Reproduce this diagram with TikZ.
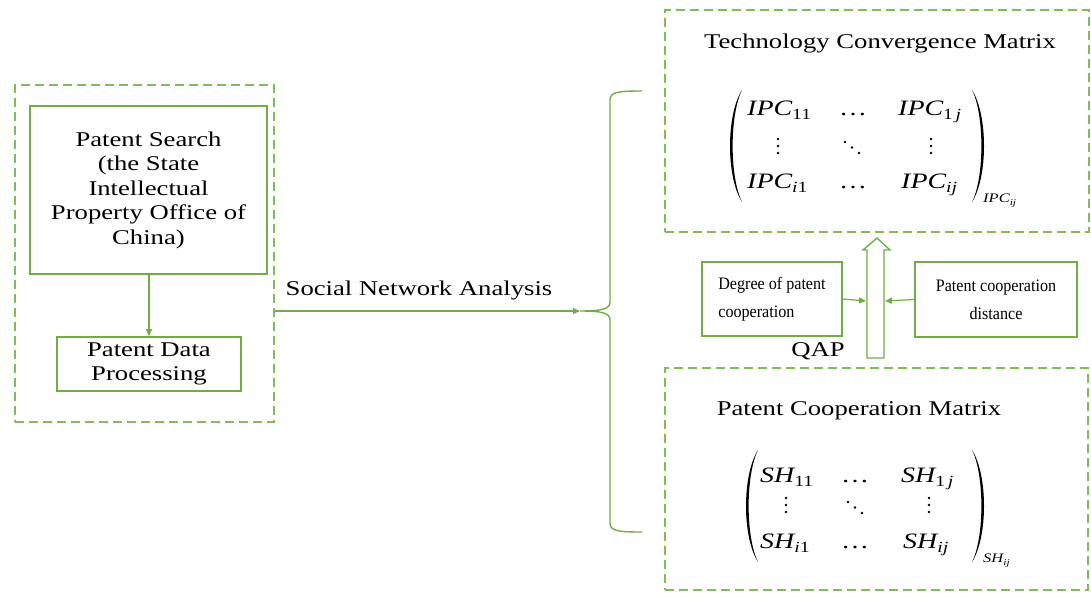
\documentclass[tikz,border=0pt]{standalone}
\usepackage{fontspec}
\setmainfont{Liberation Serif}[FakeStretch=1.27]
\newfontfamily\boxfont{Liberation Serif}[FakeStretch=0.92]
\usetikzlibrary{arrows.meta}
\definecolor{leaf}{HTML}{70AD47}
\definecolor{leaflight}{RGB}{128,188,88}

% matrix entry: italic symbol with a lowered index
\newcommand\mxent[2]{{\itshape #1}\raisebox{-4pt}{\fontsize{15.5}{15.5}\selectfont #2}}
% small label hanging off a closing parenthesis
\newcommand\mxtag[2]{{\fontsize{13}{13}\selectfont\itshape #1}\raisebox{-3.5pt}{\fontsize{9}{9}\selectfont\itshape #2}}

\tikzset{
  dashbox/.style={draw=leaflight, line width=1.3pt, dash pattern=on 9pt off 5pt, inner sep=0pt},
  solidbox/.style={draw=leaf, line width=1.6pt, inner sep=0pt, align=center,
    font=\fontsize{21}{24.5}\selectfont},
  smallbox/.style={draw=leaf, line width=2.2pt, inner sep=0pt,
    font=\boxfont\fontsize{17.5}{28}\selectfont},
  label/.style={inner sep=0pt, font=\fontsize{21}{24.5}\selectfont},
  entry/.style={inner sep=0pt, anchor=base west, font=\fontsize{22}{22}\selectfont},
  flow/.style={draw=leaf, line width=1.4pt, -{Triangle[length=7pt,width=6pt]}},
  thin/.style={draw=leaf, line width=1.4pt},
  pics/lpar/.style={code={
    \fill (0,0) .. controls (-16,25) and (-16,87) .. (0,112)
      .. controls (-12.5,87) and (-12.5,25) .. (0,0) -- cycle;}},
  pics/vdts/.style={code={
    \foreach \k in {-7,0,7} \fill (0,\k) circle (1.4);}},
  pics/ddts/.style={code={
    \foreach \k in {-1,0,1} \fill (7*\k,5.5*\k) circle (1.4);}},
}

\begin{document}
\begin{tikzpicture}[x=1pt,y=-1pt]
\useasboundingbox (0,0) rectangle (1091,592);

% ---- data collection stage ----
\node[dashbox, minimum width=259, minimum height=337] (collect) at (144.5,253.5) {};
\node[solidbox, minimum width=237, minimum height=168] (search) at (148.5,190)
  {Patent Search\\(the State\\Intellectual\\Property Office of\\China)};
\node[solidbox, minimum width=184, minimum height=54] (process) at (149,364)
  {Patent Data\\Processing};
\draw[flow] (search.south -| process.north) -- (process.north);

% ---- social network analysis ----
\coordinate (tip) at (580,311);
\draw[flow] (collect.east |- tip) -- (tip);
\node[label, anchor=base] (sna) at (419,295) {Social Network Analysis};
\draw[thin] (642,91) .. controls (618,91) and (610,92) .. (610,100) -- (610,302)
  .. controls (610,309) and (602,311) .. (tip)
  .. controls (602,311) and (610,313) .. (610,320) -- (610,523)
  .. controls (610,531) and (618,532) .. (642,532);

% ---- technology convergence matrix ----
\node[dashbox, minimum width=424, minimum height=222] (tcm) at (877,121) {};
\node[label, anchor=base] (tcmtitle) at (880,48) {Technology Convergence Matrix};
\pic at (742,90) {lpar};
\pic[xscale=-1] at (972,90) {lpar};
\node[entry] (ipc11) at (747,115) {\mxent{IPC}{11}};
\node[entry] (ipc1j) at (898,115) {\mxent{IPC}{1\,\textit{j}}};
\node[entry] (ipci1) at (747,188) {\mxent{IPC}{\textit{i}1}};
\node[entry] (ipcij) at (901,188) {\mxent{IPC}{\textit{ij}}};
\node[entry, anchor=base] (ipcdots1) at (853,115) {\ldots};
\node[entry, anchor=base] (ipcdots2) at (853,188) {\ldots};
\pic at (778,146) {vdts};
\pic at (931,146) {vdts};
\pic at (852,147.5) {ddts};
\node[inner sep=0pt, anchor=base west] (ipctag) at (983,202) {\mxtag{IPC}{ij}};

% ---- QAP stage ----
\draw[draw=leaf, line width=1.4pt, fill=white]
  (867,358) -- (867,250) -- (863,250) -- (877,238) -- (890,250) -- (884,250) -- (884,358) -- cycle;
\coordinate (shaftL) at (866,301);
\coordinate (shaftR) at (885,301);
\node[smallbox, minimum width=140, minimum height=74, align=left] (degree) at (772,299)
  {Degree of patent\\cooperation};
\node[smallbox, minimum width=162, minimum height=75, align=center] (distance) at (996,299.5)
  {Patent cooperation\\distance};
\draw[flow, line width=1.2pt] (degree.east) -- (shaftL);
\draw[flow, line width=1.2pt] (distance.west) -- (shaftR);
\node[label, anchor=base] (qap) at (818,356) {QAP};

% ---- patent cooperation matrix ----
\node[dashbox, minimum width=423, minimum height=222] (pcm) at (876.5,479) {};
\node[label, anchor=base] (pcmtitle) at (859,415) {Patent Cooperation Matrix};
\pic at (758,450) {lpar};
\pic[xscale=-1] at (972,450) {lpar};
\node[entry] (sh11) at (760,482) {\mxent{SH}{11}};
\node[entry] (sh1j) at (901,482) {\mxent{SH}{1\,\textit{j}}};
\node[entry] (shi1) at (760,548) {\mxent{SH}{\textit{i}1}};
\node[entry] (shij) at (903,548) {\mxent{SH}{\textit{ij}}};
\node[entry, anchor=base] (shdots1) at (855,482) {\ldots};
\node[entry, anchor=base] (shdots2) at (855,548) {\ldots};
\pic at (786,505) {vdts};
\pic at (929,505) {vdts};
\pic at (855,507.5) {ddts};
\node[inner sep=0pt, anchor=base west] (shtag) at (983,562) {\mxtag{SH}{ij}};
\end{tikzpicture}
\end{document}
